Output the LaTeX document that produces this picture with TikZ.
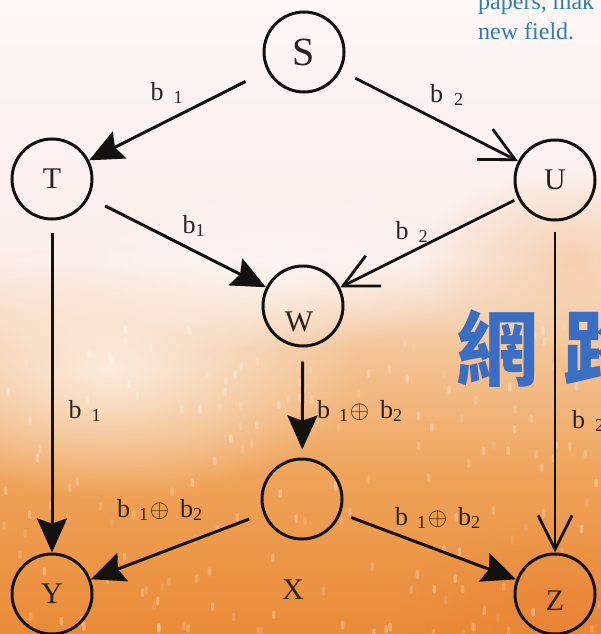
\documentclass[tikz,border=0pt]{standalone}
\usepackage{fontspec}
\setmainfont{Liberation Serif}
\newfontfamily\cjkfont{Noto Sans CJK TC}
\usetikzlibrary{arrows.meta,fadings}
\definecolor{linec}{HTML}{141210}
\definecolor{letc}{HTML}{2B2320}
\definecolor{bluec}{HTML}{2F7DB3}
\definecolor{cjkblue}{HTML}{3A6EC3}
\definecolor{bgA}{HTML}{FDF7F6}
\definecolor{bgB}{HTML}{FBEEEA}
\definecolor{bgC}{HTML}{F3C497}
\definecolor{bgD}{HTML}{EFA257}
\definecolor{bgE}{HTML}{E98B38}
\tikzfading[name=blobfade, inner color=transparent!0, outer color=transparent!100]
\begin{document}
\begin{tikzpicture}[x=1pt,y=-1pt,
  nd/.style={circle, draw=linec, line width=3pt, minimum size=80pt, inner sep=0pt,
    font=\fontsize{30}{30}\selectfont, text=letc},
  lett/.style={inner sep=0pt, font=\fontsize{30}{30}\selectfont, text=letc},
  fa/.style={draw=linec, line width=3pt, -{Stealth[length=34pt,width=30pt,inset=5pt]}},
  oa/.style={draw=linec, line width=2.8pt, -{Straight Barb[length=34pt,width=34pt]}},
  lab/.style={font=\fontsize{26}{26}\selectfont, text=letc, inner sep=0pt},
  blu/.style={font=\fontsize{24}{24}\selectfont, text=bluec, inner sep=0pt, anchor=base west},
]
\useasboundingbox (0,0) rectangle (601,634);
\clip (0,0) rectangle (601,634);
% background
\shade[top color=bgA, bottom color=bgB] (0,0) rectangle (601,260);
\shade[top color=bgB, bottom color=bgC] (0,260) rectangle (601,350);
\shade[top color=bgC, bottom color=bgD] (0,350) rectangle (601,480);
\shade[top color=bgD, bottom color=bgE] (0,480) rectangle (601,634);
\fill[white, opacity=0.7, path fading=blobfade] (110,370) ellipse [x radius=250, y radius=130];
\fill[white, opacity=0.5, path fading=blobfade] (280,270) ellipse [x radius=200, y radius=80];
\fill[bgC, opacity=0.7, path fading=blobfade] (570,260) ellipse [x radius=150, y radius=90];
\fill[bgE!90!red, opacity=0.5, path fading=blobfade] (560,610) ellipse [x radius=160, y radius=90];
\pgfmathsetseed{12}
\foreach \i in {1,...,170}{
  \pgfmathsetmacro{\sx}{rnd*601}
  \pgfmathsetmacro{\sy}{320+rnd*314}
  \pgfmathsetmacro{\so}{0.08+0.22*rnd}
  \fill[white, opacity=\so, rounded corners=1.5pt] (\sx,\sy) rectangle ++(3.5,9);
}
% overlaid texts
\node[blu] (p1) at (478,10) {papers, mak};
\node[blu] (p2) at (478,40) {new field.};
\node[inner sep=0pt, font=\cjkfont\bfseries\fontsize{82}{82}\selectfont, text=cjkblue] (c1) at (497,348) {網};
\node[inner sep=0pt, font=\cjkfont\bfseries\fontsize{82}{82}\selectfont, text=cjkblue] (c2) at (604,348) {路};
% nodes
\node[nd, font=\fontsize{40}{40}\selectfont] (S) at (304,52) {S};
\node[nd] (T) at (52,179) {T};
\node[nd] (U) at (555,180) {U};
\node[nd] (W) at (303,306) {};
\node[lett] (Wl) at (299,322) {W};
\node[nd] (X) at (302,499) {};
\node[lett] (Xl) at (293,590) {X};
\node[nd] (Y) at (52,594) {Y};
\node[nd] (Z) at (555,594) {};
\node[lett] (Zl) at (555,601) {Z};
% connectors
\draw[fa, shorten <=24pt] (S) -- (T);
\draw[oa, shorten <=16pt] (S) -- (U);
\draw[fa, shorten <=18pt] (T) -- (W);
\draw[oa, shorten <=4pt] (U) -- (W);
\draw[fa, shorten <=12pt] (T) -- (Y);
\draw[oa, shorten <=10pt] (U) -- (Z);
\draw[fa, shorten <=14pt, shorten >=8pt] (W) -- (X);
\draw[fa, shorten <=15pt] (X) -- (Y);
\draw[fa, shorten <=11pt] (X) -- (Z);
% labels
\node[lab] (l1) at (167,93) {b\hspace{10pt}\textsubscript{1}};
\node[lab] (l2) at (447,95) {b\hspace{11pt}\textsubscript{2}};
\node[lab] (l3) at (194,226) {b\textsubscript{1}};
\node[lab] (l4) at (412,232) {b\hspace{10pt}\textsubscript{2}};
\node[lab] (l5) at (85,411) {b\hspace{10pt}\textsubscript{1}};
\node[lab, anchor=west] (l6) at (572,421) {b\hspace{10pt}\textsubscript{2}};
\node[lab] (l7) at (360,411) {b\hspace{9pt}\textsubscript{1}\hspace{1pt}$\oplus$\hspace{11pt}b\textsubscript{2}};
\node[lab] (l8) at (160,510) {b\hspace{9pt}\textsubscript{1}\hspace{1pt}$\oplus$\hspace{11pt}b\textsubscript{2}};
\node[lab] (l9) at (438,518) {b\hspace{9pt}\textsubscript{1}\hspace{1pt}$\oplus$\hspace{11pt}b\textsubscript{2}};
\end{tikzpicture}
\end{document}
